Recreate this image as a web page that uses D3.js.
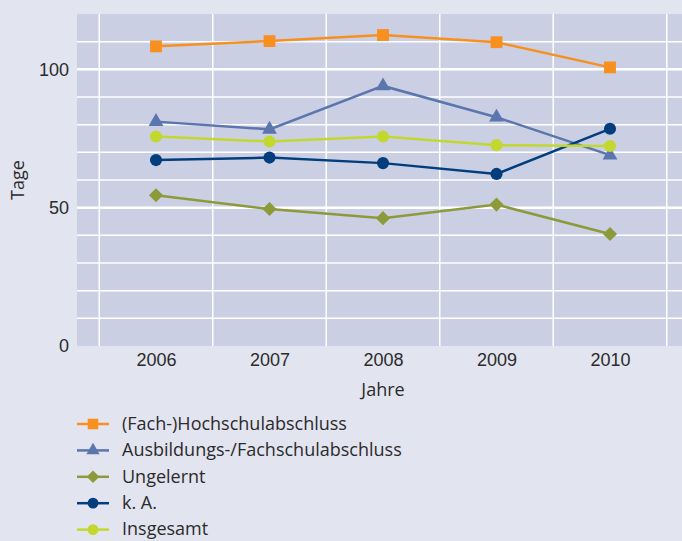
<!DOCTYPE html>
<html>
<head>
<meta charset="utf-8">
<script src="https://cdn.jsdelivr.net/npm/d3@7"></script>
<style>
  html, body { margin: 0; padding: 0; background: #e2e4f0; }
  svg { display: block; font-family: "Open Sans", "Noto Sans", sans-serif; }
</style>
</head>
<body>
<div id="chart"></div>
<script>
// data
const years = [2006, 2007, 2008, 2009, 2010];
const hochschule = [108.3, 110.2, 112.4, 109.8, 100.7];
const ausbildung = [81.1, 78.3, 94.0, 82.7, 69.0];
const ungelernt = [54.5, 49.5, 46.2, 51.1, 40.5];
const keineAngabe = [67.2, 68.1, 66.1, 62.2, 78.5];
const insgesamt = [75.7, 73.9, 75.7, 72.6, 72.3];
const yTicks = [0, 50, 100];

const series = [
  { name: '(Fach-)Hochschulabschluss', values: hochschule, color: '#f7901e', symbol: d3.symbolSquare, size: 140, rot: 0 },
  { name: 'Ausbildungs-/Fachschulabschluss', values: ausbildung, color: '#5b75ae', symbol: d3.symbolTriangle, size: 95, rot: 0 },
  { name: 'Ungelernt', values: ungelernt, color: '#8d9a3a', symbol: d3.symbolSquare, size: 100, rot: 45 },
  { name: 'k. A.', values: keineAngabe, color: '#023e7e', symbol: d3.symbolCircle, size: 115, rot: 0 },
  { name: 'Insgesamt', values: insgesamt, color: '#c2d82e', symbol: d3.symbolCircle, size: 115, rot: 0 }
];

const width = 682;
const height = 541;
const plot = { left: 77, top: 14, right: 682, bottom: 346 };
const textColor = '#2b2b2b';

const svg = d3.select('#chart')
  .append('svg')
  .attr('width', width)
  .attr('height', height);

svg.append('rect')
  .attr('width', width)
  .attr('height', height)
  .attr('fill', '#e2e4f0');

// x: one year = 113.5px, centred at 156
const x = d3.scaleLinear().domain([2006, 2010]).range([156, 610]);
const y = d3.scaleLinear().domain([0, 120]).range([plot.bottom, plot.top]);

svg.append('rect')
  .attr('x', plot.left)
  .attr('y', plot.top)
  .attr('width', plot.right - plot.left)
  .attr('height', plot.bottom - plot.top)
  .attr('fill', '#cbcfe3');

// grid
const grid = svg.append('g').attr('stroke', '#fff').attr('stroke-width', 1.5);
grid.selectAll('.hg')
  .data(d3.range(10, 120, 10))
  .enter()
  .append('line')
  .attr('x1', plot.left)
  .attr('x2', plot.right)
  .attr('y1', d => y(d))
  .attr('y2', d => y(d))
  .attr('stroke-width', d => (d % 50 === 0 ? 2.5 : 1.5));

grid.selectAll('.vg')
  .data([2005.5, 2006.5, 2007.5, 2008.5, 2009.5, 2010.5])
  .enter()
  .append('line')
  .attr('x1', d => x(d))
  .attr('x2', d => x(d))
  .attr('y1', plot.top)
  .attr('y2', plot.bottom);

// axes
const yAxis = svg.append('g')
  .attr('transform', `translate(${plot.left},0)`)
  .call(d3.axisLeft(y).tickValues(yTicks).tickSize(0).tickPadding(8));
yAxis.select('.domain').remove();
yAxis.selectAll('text').attr('font-size', 18).attr('fill', textColor);

const xAxis = svg.append('g')
  .attr('transform', `translate(0,${plot.bottom})`)
  .call(d3.axisBottom(x).tickValues(years).tickFormat(d3.format('d')).tickSize(0).tickPadding(7));
xAxis.select('.domain').remove();
xAxis.selectAll('text').attr('font-size', 18).attr('fill', textColor);

svg.append('text')
  .attr('x', 383)
  .attr('y', 396)
  .attr('text-anchor', 'middle')
  .attr('font-size', 18)
  .attr('fill', textColor)
  .text('Jahre');

svg.append('text')
  .attr('transform', 'translate(24,180) rotate(-90)')
  .attr('text-anchor', 'middle')
  .attr('font-size', 18)
  .attr('fill', textColor)
  .text('Tage');

// lines and markers
const line = d3.line()
  .x((d, i) => x(years[i]))
  .y(d => y(d));

series.forEach(s => {
  const g = svg.append('g');
  g.append('path')
    .datum(s.values)
    .attr('fill', 'none')
    .attr('stroke', s.color)
    .attr('stroke-width', 2.5)
    .attr('d', line);
  g.selectAll('path.pt')
    .data(s.values)
    .enter()
    .append('path')
    .attr('class', 'pt')
    .attr('transform', (d, i) => `translate(${x(years[i])},${y(d)}) rotate(${s.rot})`)
    .attr('d', d3.symbol().type(s.symbol).size(s.size))
    .attr('fill', s.color);
});

// legend
const legend = svg.append('g').attr('transform', 'translate(77,424)');
series.forEach((s, i) => {
  const row = legend.append('g').attr('transform', `translate(0,${i * 26.4})`);
  row.append('line')
    .attr('x1', 0)
    .attr('x2', 32)
    .attr('stroke', s.color)
    .attr('stroke-width', 2.5);
  row.append('path')
    .attr('transform', `translate(16,0) rotate(${s.rot})`)
    .attr('d', d3.symbol().type(s.symbol).size(s.size * 0.8))
    .attr('fill', s.color);
  row.append('text')
    .attr('x', 45)
    .attr('dy', '0.32em')
    .attr('font-size', 18)
    .attr('fill', textColor)
    .text(s.name);
});
</script>
</body>
</html>
